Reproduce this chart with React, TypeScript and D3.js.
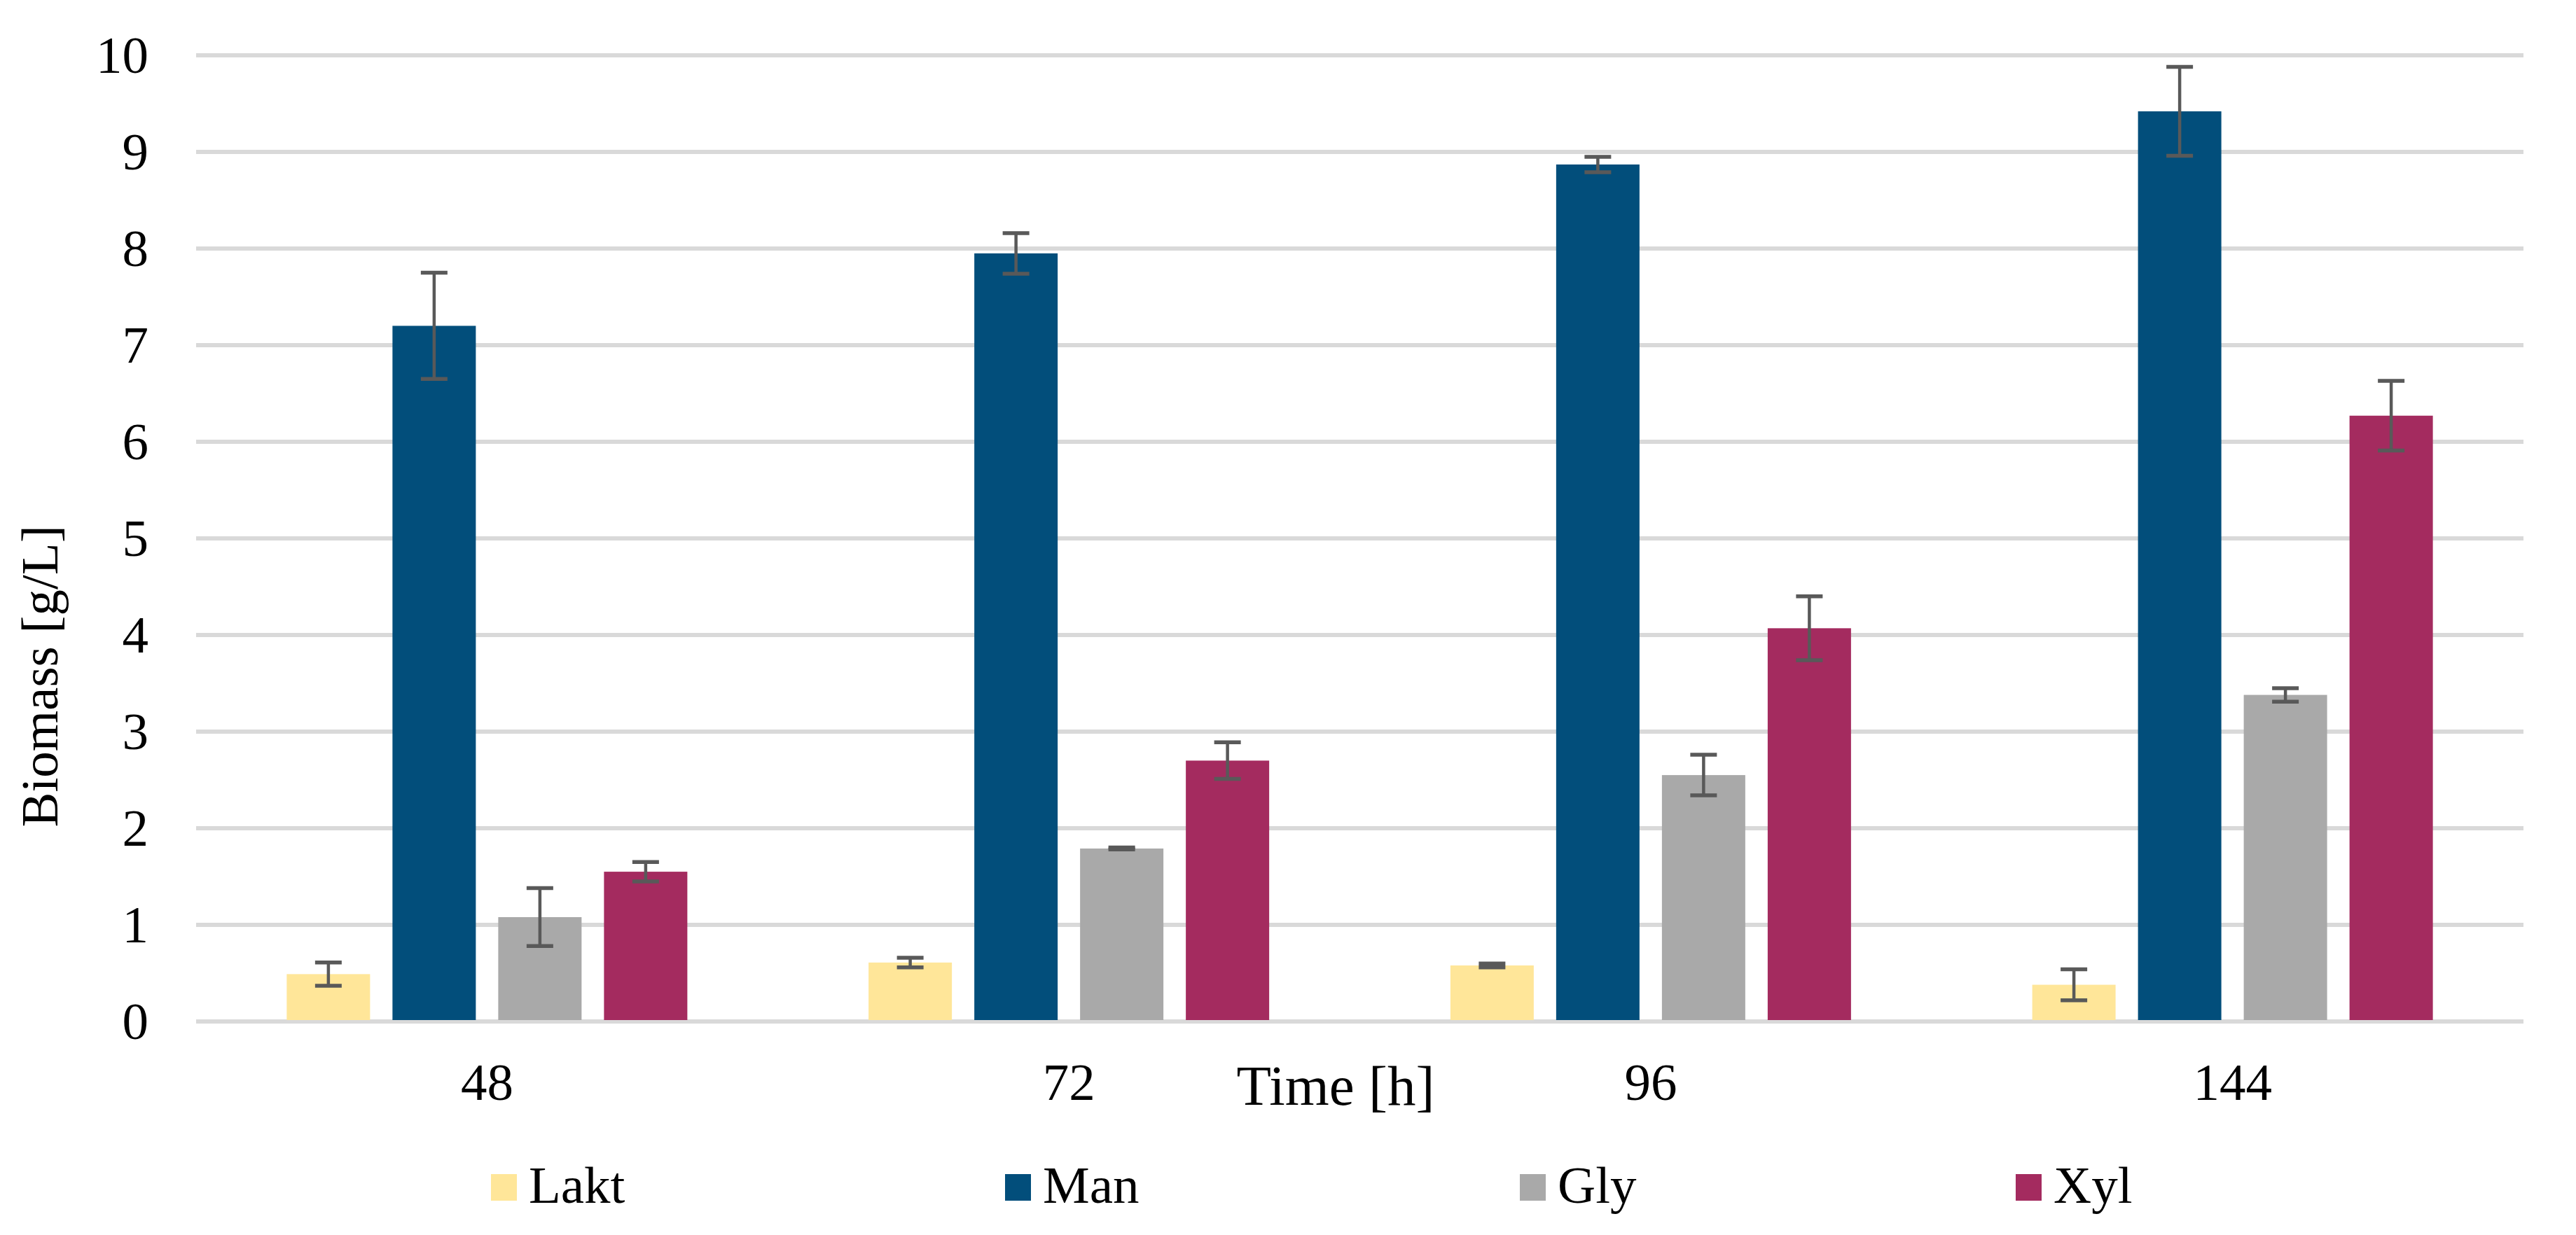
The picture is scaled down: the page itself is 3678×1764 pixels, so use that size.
import React from 'react'
import * as d3 from 'd3'

// sampling times (h)
const times = ['48', '72', '96', '144']
const series = ['Lakt', 'Man', 'Gly', 'Xyl']
const colors = ['#FFE699', '#024E7B', '#A9A9A9', '#A42B5F']

// biomass [g/L], one array per substrate, same order as times
const lakt = [0.49, 0.61, 0.58, 0.38]
const man = [7.2, 7.95, 8.87, 9.42]
const gly = [1.08, 1.79, 2.55, 3.38]
const xyl = [1.55, 2.7, 4.07, 6.27]

// standard deviations
const laktSd = [0.12, 0.05, 0.02, 0.16]
const manSd = [0.55, 0.21, 0.08, 0.46]
const glySd = [0.3, 0.01, 0.21, 0.07]
const xylSd = [0.1, 0.19, 0.33, 0.36]

const yTicks = [0, 1, 2, 3, 4, 5, 6, 7, 8, 9, 10]
const legendX = [701, 1435, 2170, 2878]

const W = 3678
const H = 1764
const FONT = '"Liberation Serif", "Times New Roman", serif'

export default function App() {
  const values = [lakt, man, gly, xyl]
  const errs = [laktSd, manSd, glySd, xylSd]

  const x0 = d3.scaleBand<string>().domain(times).range([280, 3603]).padding(0)
  const groupW = 572
  const x1 = d3.scaleBand<string>().domain(series).range([0, groupW]).paddingInner(0.212)
  const y = d3.scaleLinear().domain([0, 10]).range([1459, 79])

  const bw = x1.bandwidth()
  const capW = 38

  return (
    <div style={{ position: 'fixed', left: 0, top: 0, background: '#fff' }}>
      <svg width={W} height={H} viewBox={`0 0 ${W} ${H}`} style={{ display: 'block', fontFamily: FONT }}>
        <rect width={W} height={H} fill="#fff" />

        {/* gridlines */}
        {yTicks.map(t => (
          <line key={'g' + t} x1={280} x2={3603} y1={y(t)} y2={y(t)} stroke="#D9D9D9" strokeWidth={6} />
        ))}

        {/* y tick labels */}
        {yTicks.map(t => (
          <text key={'yt' + t} x={212} y={y(t) + 25} textAnchor="end" fontSize={75} fill="#000">
            {t}
          </text>
        ))}

        {/* bars */}
        {times.map((tm, i) => {
          const gx = x0(tm)! + (x0.bandwidth() - groupW) / 2
          return (
            <g key={'grp' + tm}>
              {series.map((s, j) => {
                const v = values[j][i]
                const bx = gx + x1(s)!
                return (
                  <rect key={s} x={bx} y={y(v)} width={bw} height={y(0) - y(v) - 2} fill={colors[j]} />
                )
              })}
            </g>
          )
        })}

        {/* error bars */}
        {times.map((tm, i) => {
          const gx = x0(tm)! + (x0.bandwidth() - groupW) / 2
          return (
            <g key={'err' + tm} stroke="#595959" strokeWidth={5.5} fill="none">
              {series.map((s, j) => {
                const v = values[j][i]
                const e = errs[j][i]
                const cx = gx + x1(s)! + bw / 2
                return (
                  <g key={s}>
                    <line x1={cx} x2={cx} y1={y(v + e)} y2={y(v - e)} strokeWidth={4.5} />
                    <line x1={cx - capW / 2} x2={cx + capW / 2} y1={y(v + e)} y2={y(v + e)} />
                    <line x1={cx - capW / 2} x2={cx + capW / 2} y1={y(v - e)} y2={y(v - e)} />
                  </g>
                )
              })}
            </g>
          )
        })}

        {/* x tick labels */}
        {times.map(tm => (
          <text key={'xt' + tm} x={x0(tm)! + x0.bandwidth() / 2} y={1571} textAnchor="middle" fontSize={75} fill="#000">
            {tm}
          </text>
        ))}

        {/* axis titles */}
        <text x={1907} y={1578} textAnchor="middle" fontSize={81} fill="#000">
          Time [h]
        </text>
        <text transform="translate(82, 966) rotate(-90)" textAnchor="middle" fontSize={75} fill="#000">
          Biomass [g/L]
        </text>

        {/* legend */}
        {series.map((s, j) => (
          <g key={'lg' + s}>
            <rect x={legendX[j]} y={1677} width={37} height={38} fill={colors[j]} />
            <text x={legendX[j] + 54} y={1718} fontSize={75} fill="#000">
              {s}
            </text>
          </g>
        ))}
      </svg>
    </div>
  )
}
